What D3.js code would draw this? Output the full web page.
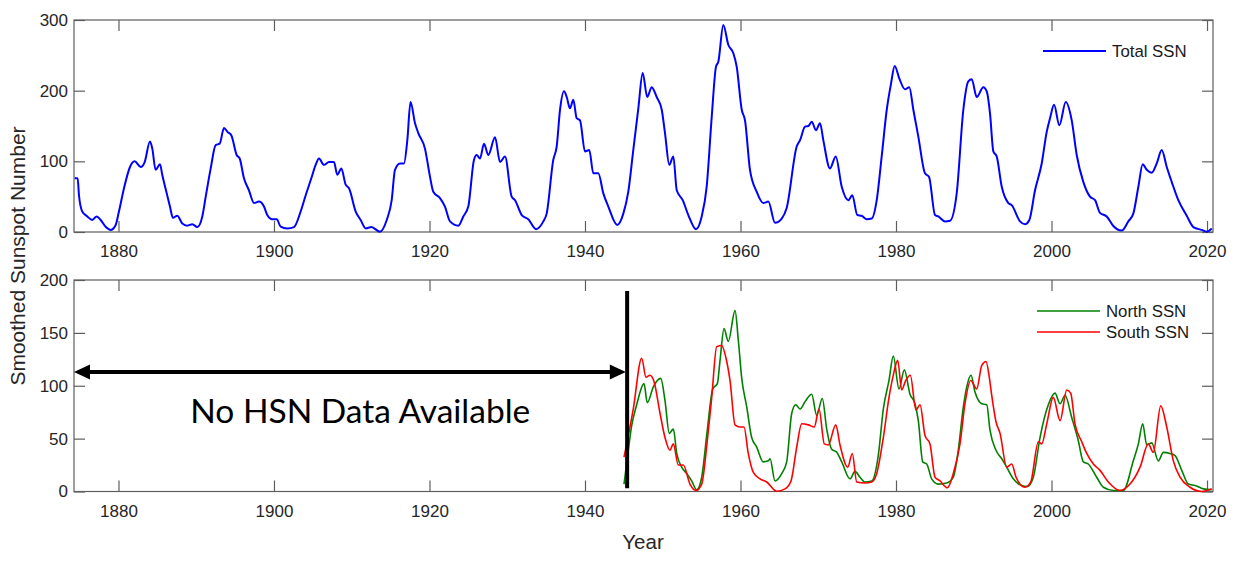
<!DOCTYPE html>
<html>
<head>
<meta charset="utf-8">
<script src="https://cdn.jsdelivr.net/npm/d3@7"></script>
<style>
  body { margin: 0; background: #fff; }
  svg { display: block; }
  .tick text { font-family: "Liberation Sans", Arial, sans-serif; font-size: 17px; fill: #262626; }
</style>
</head>
<body>
<svg id="chart"></svg>
<script>
// Valeurs (annee decimale, nombre de taches lisse)
const totalYears = [1874.37, 1874.75, 1874.92, 1875.34, 1875.99, 1876.63, 1877.2, 1877.71, 1878.35, 1879.0, 1879.64,
  1880.06, 1880.71, 1881.48, 1882.08, 1882.86, 1883.37, 1884.05, 1884.35, 1884.78, 1885.34, 1885.63, 1886.2, 1886.62,
  1887.01, 1887.56, 1888.21, 1888.85, 1889.49, 1890.14, 1890.78, 1891.22, 1891.86, 1892.5, 1893.02, 1893.57, 1894.08,
  1894.51, 1895.2, 1895.59, 1896.14, 1896.78, 1897.43, 1898.07, 1898.71, 1899.14, 1899.78, 1900.35, 1900.86, 1901.71,
  1902.57, 1903.43, 1904.08, 1904.8, 1905.36, 1905.79, 1906.43, 1907.07, 1907.72, 1908.14, 1908.66, 1909.22, 1909.65,
  1910.51, 1911.15, 1911.8, 1912.52, 1913.63, 1914.5, 1915.14, 1915.56, 1916.21, 1916.72, 1917.15, 1917.56, 1918.14,
  1918.56, 1919.42, 1920.07, 1920.49, 1921.35, 1921.99, 1922.64, 1923.71, 1924.35, 1924.99, 1925.72, 1926.07, 1926.5,
  1927.01, 1927.56, 1928.43, 1929.07, 1929.71, 1930.57, 1931.0, 1931.86, 1932.71, 1933.7, 1934.64, 1935.07, 1935.92,
  1936.36, 1936.79, 1937.3, 1937.65, 1938.07, 1938.5, 1938.93, 1939.36, 1940.0, 1940.55, 1941.07, 1941.71, 1942.35,
  1943.0, 1944.15, 1944.93, 1945.57, 1946.21, 1946.86, 1947.42, 1948.01, 1948.58, 1949.22, 1949.87, 1950.29, 1950.84,
  1951.36, 1951.8, 1952.57, 1953.29, 1954.28, 1955.01, 1955.65, 1956.3, 1956.85, 1957.15, 1957.79, 1958.43, 1959.08,
  1959.51, 1960.16, 1960.58, 1961.22, 1962.08, 1962.93, 1963.58, 1964.44, 1965.3, 1965.94, 1967.23, 1967.66, 1968.3,
  1968.72, 1969.16, 1969.71, 1970.23, 1970.65, 1971.51, 1972.25, 1973.02, 1973.87, 1974.38, 1975.02, 1975.59, 1976.23,
  1976.88, 1977.52, 1978.16, 1978.81, 1979.36, 1979.83, 1980.43, 1981.16, 1981.71, 1982.23, 1982.87, 1983.73, 1984.25,
  1985.02, 1985.44, 1986.3, 1986.95, 1987.81, 1988.66, 1989.3, 1989.74, 1990.38, 1991.23, 1991.67, 1992.09, 1992.52,
  1992.95, 1993.6, 1994.45, 1994.88, 1995.95, 1996.59, 1997.15, 1997.88, 1998.74, 1999.39, 1999.81, 2000.33, 2001.01,
  2001.83, 2002.6, 2003.24, 2004.09, 2004.95, 2005.6, 2006.24, 2007.1, 2007.95, 2009.03, 2009.88, 2010.52, 2011.17,
  2011.73, 2012.25, 2012.89, 2013.53, 2014.18, 2014.82, 2015.46, 2016.31, 2017.39, 2018.24, 2019.32, 2019.97, 2020.61];
const totalSSN = [76, 76, 52, 29, 22, 17, 22, 17, 7.5, 3, 10,
  29, 62, 92, 100, 92, 99, 128, 118, 88, 96, 81, 55, 36,
  20, 23, 12, 9, 11, 7, 22, 50, 90, 123, 125, 147, 141,
  137, 109, 104, 76, 59, 41, 43, 36, 24, 18, 18, 7.5, 5,
  7, 29, 52, 76, 95, 104, 95, 99, 99, 81, 90, 67, 62,
  29, 17, 5, 7, 0.5, 17, 45, 88, 97, 97, 130, 184, 154,
  140, 118, 78, 57, 48, 36, 15, 9, 22, 36, 102, 109, 104,
  125, 109, 134, 99, 107, 50, 45, 24, 18, 4, 15, 26, 102,
  121, 173, 199, 191, 175, 187, 161, 158, 114, 116, 83, 83, 55,
  36, 10, 26, 57, 116, 175, 225, 191, 205, 191, 173, 140, 95,
  107, 59, 45, 24, 4, 22, 64, 163, 234, 241, 293, 265, 253,
  234, 173, 158, 88, 57, 41, 43, 13, 19, 34, 121, 130, 149,
  150, 156, 144, 154, 130, 90, 107, 64, 45, 52, 24, 23, 18,
  19, 45, 107, 173, 210, 235, 217, 202, 205, 173, 135, 83, 78,
  24, 22, 15, 16, 55, 173, 213, 216, 191, 205, 199, 168, 114,
  107, 64, 41, 38, 15, 11, 17, 59, 97, 142, 161, 180, 151,
  184, 158, 109, 71, 50, 45, 27, 22, 8.5, 2, 15, 26, 64,
  96, 88, 84, 97, 116, 92, 71, 45, 23, 7, 3, 0.5, 5];

const northYears = [1945.02, 1945.5, 1946.0, 1946.65, 1947.59, 1948.01, 1948.79, 1949.74, 1950.29, 1950.84, 1951.36,
  1951.8, 1952.44, 1953.08, 1953.72, 1954.37, 1955.01, 1955.73, 1956.43, 1957.02, 1957.37, 1957.88, 1958.43, 1959.3,
  1959.72, 1960.16, 1960.8, 1961.44, 1962.08, 1962.93, 1963.58, 1963.8, 1964.44, 1965.3, 1965.94, 1966.59, 1967.1,
  1967.66, 1968.3, 1969.16, 1969.8, 1970.52, 1971.09, 1971.73, 1972.38, 1973.02, 1974.09, 1974.73, 1975.37, 1976.02,
  1976.88, 1977.72, 1978.37, 1979.1, 1979.65, 1980.39, 1981.07, 1981.8, 1982.44, 1982.87, 1983.44, 1983.95, 1984.59,
  1985.44, 1986.52, 1987.37, 1988.01, 1988.66, 1989.1, 1989.65, 1990.16, 1991.02, 1991.67, 1992.09, 1992.86, 1993.6,
  1994.24, 1995.09, 1996.17, 1996.89, 1997.66, 1998.52, 1999.59, 2000.45, 2001.1, 2001.74, 2002.6, 2003.45, 2004.09,
  2004.73, 2005.81, 2006.67, 2007.95, 2009.24, 2010.52, 2011.17, 2011.73, 2012.25, 2012.89, 2013.74, 2014.38, 2015.24,
  2015.89, 2016.75, 2017.6, 2018.46, 2019.53, 2020.61];
const northSSN = [7, 35, 62, 82, 102, 84, 99, 107, 86, 55, 59,
  36, 23, 17, 10, 1.6, 13.5, 58, 97, 102, 124, 154, 142, 171,
  143, 107, 80, 51, 42, 28, 29, 31, 10, 17, 28, 74, 82,
  78, 85, 92, 72, 88, 59, 40, 37, 28, 12, 19, 13.5, 9,
  10, 34, 78, 105, 128, 97, 115, 92, 83, 67, 28, 26, 12,
  7, 8, 13.5, 39, 80, 99, 110, 94, 83, 82, 58, 39, 31,
  23, 12, 5.7, 4.7, 13.5, 51, 82, 93, 83, 91, 70, 48, 28,
  26, 13.5, 4, 1, 1, 29, 45, 64, 44, 46, 29, 37, 36,
  34, 20, 7, 5.7, 2.5, 1.6];

const southYears = [1945.02, 1946.21, 1947.29, 1947.85, 1948.36, 1948.88, 1949.65, 1950.29, 1950.93, 1951.36, 1952.0,
  1952.64, 1953.5, 1954.28, 1955.01, 1955.73, 1956.3, 1956.94, 1957.58, 1958.14, 1958.65, 1959.3, 1959.94, 1960.45,
  1961.0, 1961.65, 1962.51, 1963.37, 1964.66, 1965.73, 1966.5, 1967.23, 1967.87, 1968.72, 1969.49, 1970.1, 1970.78,
  1971.29, 1972.25, 1972.8, 1973.79, 1974.38, 1974.95, 1976.02, 1976.88, 1977.52, 1978.37, 1979.1, 1979.65, 1980.22,
  1980.73, 1981.25, 1981.84, 1982.57, 1983.09, 1983.73, 1984.37, 1985.02, 1985.66, 1986.6, 1987.37, 1988.23, 1988.87,
  1989.61, 1990.38, 1991.02, 1991.58, 1992.0, 1992.31, 1992.86, 1993.38, 1994.24, 1994.88, 1995.44, 1996.59, 1997.33,
  1998.31, 1998.74, 1999.39, 2000.23, 2001.1, 2001.96, 2002.47, 2003.02, 2003.89, 2004.53, 2005.38, 2006.24, 2007.31,
  2008.82, 2010.1, 2011.39, 2012.45, 2013.09, 2014.05, 2014.82, 2015.67, 2016.53, 2017.82, 2019.32, 2020.61];
const southSSN = [32.5, 78, 126, 108, 110, 104, 74, 51, 39, 45, 25,
  25, 7, 1, 7, 48, 89, 137, 138, 126, 105, 63, 61, 61,
  36, 18, 12, 9, 0.3, 2.5, 10, 42, 64, 63, 61, 78, 45,
  44, 63, 44, 23, 36, 9, 8, 9, 17, 51, 89, 110, 124,
  96, 105, 110, 77, 82, 53, 45, 13.5, 10, 3.5, 17, 45, 83,
  105, 97, 119, 123, 108, 91, 66, 55, 23, 26, 13.5, 4, 9,
  47, 45, 64, 89, 67, 96, 93, 64, 47, 36, 26, 20, 9,
  1, 7, 23, 45, 37, 81, 61, 29, 13.5, 4, 0, 2.5];

const yearTicks = [1880, 1900, 1920, 1940, 1960, 1980, 2000, 2020];
const totalTicks = [0, 100, 200, 300];
const hemiTicks = [0, 50, 100, 150, 200];

// zone sans donnees hemispheriques
const noDataSpan = [1874.28, 1945.25];
const arrowLevel = 113;
const cutoffYear = 1945.42;
const cutoffRange = [3, 189.5];

const width = 1243, height = 562;
const axisColor = "#5e5e5e";
const tickLen = 11;

const svg = d3.select("#chart")
    .attr("width", width)
    .attr("height", height);

const x = d3.scaleLinear().domain([1874.28, 2020.77]).range([74, 1213]);
const yTop = d3.scaleLinear().domain([0, 300]).range([232, 20]);
const yBot = d3.scaleLinear().domain([0, 200]).range([491.5, 280]);

// Dessine un panneau encadre avec graduations vers l'interieur (style MATLAB)
function drawPanel(y, yTicks) {
    const [b, t] = y.range();
    const g = svg.append("g");

    g.append("g")
        .attr("transform", `translate(0,${b})`)
        .call(d3.axisBottom(x).tickValues(yearTicks).tickFormat(d3.format("d"))
            .tickSizeInner(-tickLen).tickSizeOuter(0).tickPadding(13));
    g.append("g")
        .attr("transform", `translate(0,${t})`)
        .call(d3.axisTop(x).tickValues(yearTicks).tickFormat("")
            .tickSizeInner(-tickLen).tickSizeOuter(0));
    g.append("g")
        .attr("transform", `translate(${x.range()[0]},0)`)
        .call(d3.axisLeft(y).tickValues(yTicks).tickFormat(d3.format("d"))
            .tickSizeInner(-tickLen).tickSizeOuter(0).tickPadding(6));
    g.append("g")
        .attr("transform", `translate(${x.range()[1]},0)`)
        .call(d3.axisRight(y).tickValues(yTicks).tickFormat("")
            .tickSizeInner(-tickLen).tickSizeOuter(0));

    g.selectAll(".domain").remove();
    g.selectAll(".tick line").attr("stroke", axisColor).attr("stroke-width", 1.2);

    g.append("rect")
        .attr("x", x.range()[0])
        .attr("y", t)
        .attr("width", x.range()[1] - x.range()[0])
        .attr("height", b - t)
        .attr("fill", "none")
        .attr("stroke", axisColor)
        .attr("stroke-width", 1.2);
    return g;
}

function drawSeries(y, years, values, color, w) {
    const line = d3.line()
        .x(i => x(years[i]))
        .y(i => y(values[i]))
        .curve(d3.curveMonotoneX);
    svg.append("path")
        .attr("d", line(d3.range(years.length)))
        .attr("fill", "none")
        .attr("stroke", color)
        .attr("stroke-width", w)
        .attr("stroke-linejoin", "round");
}

function legendEntry(lx, ly, color, label, w) {
    svg.append("line")
        .attr("x1", lx).attr("x2", lx + 63)
        .attr("y1", ly).attr("y2", ly)
        .attr("stroke", color).attr("stroke-width", w);
    svg.append("text")
        .attr("x", lx + 69).attr("y", ly)
        .attr("dy", "0.35em")
        .attr("font-family", "Liberation Sans, Arial, sans-serif")
        .attr("font-size", 16.8)
        .attr("fill", "#1a1a1a")
        .text(label);
}

// Panneau du haut : nombre total
drawPanel(yTop, totalTicks);
drawSeries(yTop, totalYears, totalSSN, "#0000ff", 2);
legendEntry(1043, 51, "#0000ff", "Total SSN", 2);

// Panneau du bas : hemispheres
drawPanel(yBot, hemiTicks);
drawSeries(yBot, northYears, northSSN, "#008000", 1.6);
drawSeries(yBot, southYears, southSSN, "#ff0000", 1.6);
legendEntry(1037, 311, "#008000", "North SSN", 1.6);
legendEntry(1037, 332, "#ff0000", "South SSN", 1.6);

// Fleche double et barre verticale
const ax0 = x(noDataSpan[0]), ax1 = x(noDataSpan[1]), ay = yBot(arrowLevel);
const head = 16, half = 7.5;
svg.append("line")
    .attr("x1", ax0 + head - 2).attr("x2", ax1 - head + 2)
    .attr("y1", ay).attr("y2", ay)
    .attr("stroke", "#000").attr("stroke-width", 4);
svg.append("path")
    .attr("d", `M${ax0},${ay}L${ax0 + head},${ay - half}L${ax0 + head},${ay + half}Z`)
    .attr("fill", "#000");
svg.append("path")
    .attr("d", `M${ax1},${ay}L${ax1 - head},${ay - half}L${ax1 - head},${ay + half}Z`)
    .attr("fill", "#000");
svg.append("line")
    .attr("x1", x(cutoffYear)).attr("x2", x(cutoffYear))
    .attr("y1", yBot(cutoffRange[1])).attr("y2", yBot(cutoffRange[0]))
    .attr("stroke", "#000").attr("stroke-width", 4);

svg.append("text")
    .attr("x", x(1911.1)).attr("y", 423)
    .attr("text-anchor", "middle")
    .attr("font-family", "Lato, Carlito, sans-serif")
    .attr("font-size", 33.5)
    .attr("fill", "#000")
    .text("No HSN Data Available");

// Titres des axes
svg.append("text")
    .attr("transform", "translate(25,256) rotate(-90)")
    .attr("text-anchor", "middle")
    .attr("font-family", "Liberation Sans, Arial, sans-serif")
    .attr("font-size", 21)
    .attr("fill", "#262626")
    .text("Smoothed Sunspot Number");

svg.append("text")
    .attr("x", 643).attr("y", 549)
    .attr("text-anchor", "middle")
    .attr("font-family", "Liberation Sans, Arial, sans-serif")
    .attr("font-size", 20.5)
    .attr("fill", "#262626")
    .text("Year");
</script>
</body>
</html>
